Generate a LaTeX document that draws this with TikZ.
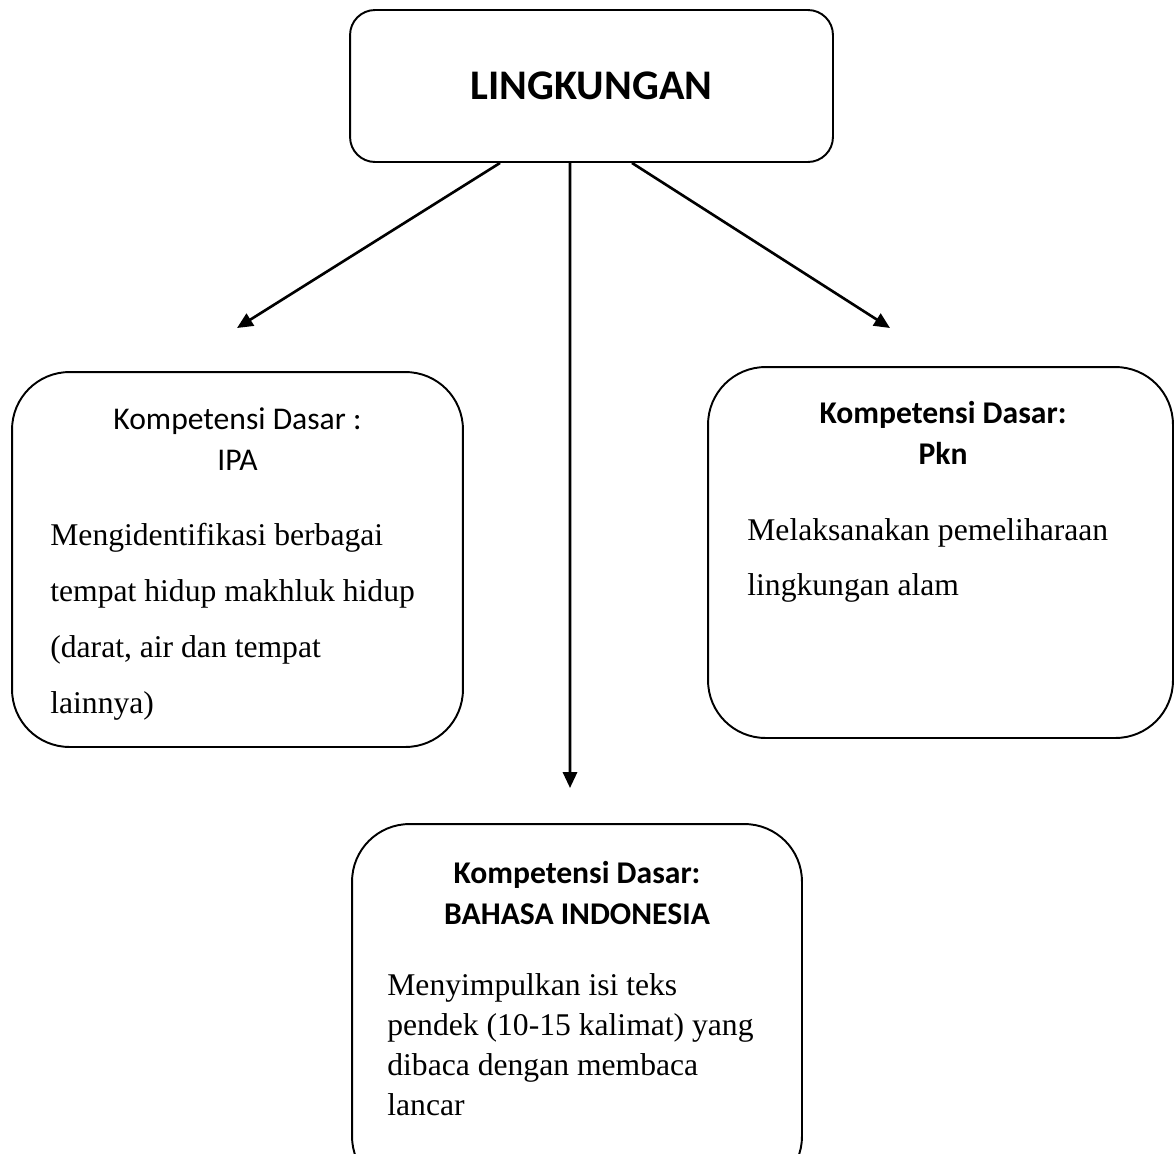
\documentclass[tikz,border=0pt]{standalone}
\usepackage{fontspec}
\setmainfont{Liberation Serif}
\newfontfamily\calibri{Carlito}
\usetikzlibrary{arrows.meta}
\usetikzlibrary{positioning}

\tikzset{
  box/.style={draw,line width=1.1pt,rounded corners=1.15cm,inner sep=0pt},
  headtext/.style={inner sep=0pt,align=center,anchor=north,font=\calibri\fontsize{18}{23.3}\selectfont},
  boldhead/.style={headtext,font=\calibri\bfseries\fontsize{18}{23.3}\selectfont},
  bodytext/.style={inner sep=0pt,align=left,anchor=north west},
  arr/.style={line width=1.5pt,-{Triangle[length=9pt,width=8pt]}}
}

\begin{document}
\begin{tikzpicture}[x=0.02cm,y=-0.02cm]
\useasboundingbox (0,0) rectangle (1175,1153);
\clip (0,0) rectangle (1175,1153);

% top
\node[box,rounded corners=0.5cm,minimum width=9.66cm,minimum height=3.04cm,
  font=\calibri\bfseries\fontsize{24}{28}\selectfont] (lingk) at (591.5,86) {LINGKUNGAN};

% three boxes
\node[box,minimum width=9.02cm,minimum height=7.5cm] (ipa) at (237.5,559.5) {};
\node[box,minimum width=9.3cm,minimum height=7.42cm] (pkn) at (940.5,552.5) {};
\node[box,minimum width=9cm,minimum height=7.4cm] (bindo) at (577,1009) {};

\node[headtext] (ipaHead) at (237.5,407) {Kompetensi Dasar :\\IPA};
\node[bodytext,font=\fontsize{18}{31.8}\selectfont] (ipaText) at (50,523)
  {Mengidentifikasi berbagai\\tempat hidup makhluk hidup\\(darat, air dan tempat\\lainnya)};

\node[boldhead] (pknHead) at (943,401) {Kompetensi Dasar:\\Pkn};
\node[bodytext,font=\fontsize{18}{31.3}\selectfont] (pknText) at (747,518)
  {Melaksanakan pemeliharaan\\lingkungan alam};

\node[boldhead] (bindoHead) at (577,861) {Kompetensi Dasar:\\BAHASA INDONESIA};
\node[bodytext,font=\fontsize{18}{22.8}\selectfont] (bindoText) at (387,973)
  {Menyimpulkan isi teks\\pendek (10-15 kalimat) yang\\dibaca dengan membaca\\lancar};

% arrows
\coordinate (ipaTip) at (237,328);
\coordinate (pknTip) at (890,328);
\coordinate (bindoTip) at (570,788);
\draw[arr] ([xshift=-1.83cm]lingk.south) -- (ipaTip);
\draw[arr] ([xshift=-0.43cm]lingk.south) -- (bindoTip);
\draw[arr] ([xshift=0.81cm]lingk.south) -- (pknTip);
\end{tikzpicture}
\end{document}
